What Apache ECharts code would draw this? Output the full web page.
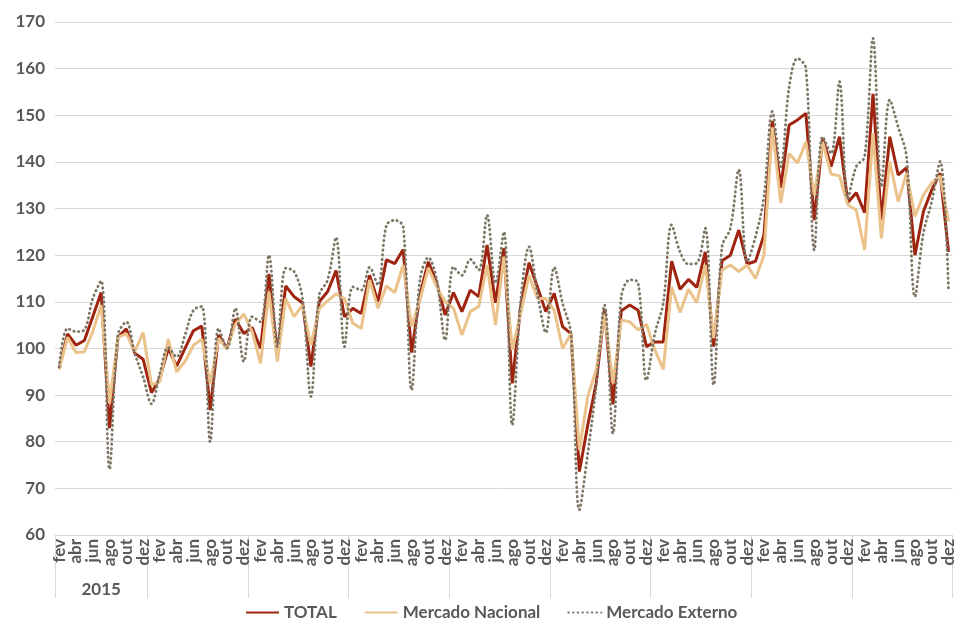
<!DOCTYPE html>
<html>
<head>
<meta charset="utf-8">
<script src="https://cdn.jsdelivr.net/npm/echarts@6/dist/echarts.min.js"></script>
<style>
  html, body { margin: 0; padding: 0; background: #fff; }
  #chart { width: 957px; height: 619px; }
</style>
</head>
<body>
<div id="chart"></div>
<script>
// meses e anos do eixo (começa em fev 2015, acaba em dez 2023)
var months = ['jan', 'fev', 'mar', 'abr', 'mai', 'jun', 'jul', 'ago', 'set', 'out', 'nov', 'dez'];
var years = ['2015', '2016', '2017', '2018', '2019', '2020', '2021', '2022', '2023'];
var yearLabels = ['2015', '', '', '', '', '', '', '', ''];

var total = [
    95.8, 103.1, 100.7, 101.7, 106.8, 112.0, 82.9, 102.4, 104.2, 99.0, 97.7,
    90.5, 93.6, 100.0, 96.2, 100.0, 103.8, 104.8, 86.8, 102.9, 100.0, 106.3, 103.2,
    104.5, 100.0, 116.0, 99.0, 113.4, 111.1, 109.8, 96.1, 110.0, 112.2, 116.7, 106.8,
    108.6, 107.5, 115.7, 110.0, 119.0, 118.2, 121.2, 99.1, 111.5, 118.6, 114.0, 107.2,
    112.0, 107.9, 112.5, 111.1, 122.2, 109.8, 121.5, 92.5, 109.0, 118.4, 113.2, 107.9,
    111.8, 104.7, 103.2, 73.6, 83.6, 92.5, 108.4, 88.0, 108.1, 109.3, 108.2, 100.4,
    101.4, 101.4, 118.7, 112.7, 114.8, 113.1, 120.7, 100.4, 118.8, 120.0, 125.4, 118.1,
    118.7, 124.3, 148.8, 134.5, 147.9, 149.0, 150.4, 127.5, 145.1, 139.0, 145.4, 131.3,
    133.4, 129.1, 154.6, 127.5, 145.4, 137.2, 138.8, 120.0, 129.3, 134.0, 137.6, 120.7
];
var nacional = [
    95.5, 102.4, 99.1, 99.3, 103.6, 109.3, 88.2, 102.4, 103.2, 99.3, 103.4,
    92.2, 92.9, 102.0, 95.0, 97.2, 100.7, 102.0, 92.5, 102.2, 99.8, 105.2, 107.4,
    103.6, 96.8, 112.2, 97.2, 110.7, 106.8, 109.3, 100.7, 108.6, 110.2, 111.7, 110.7,
    105.4, 104.3, 114.7, 108.6, 113.4, 112.0, 117.9, 104.7, 110.4, 117.3, 113.2, 110.0,
    108.6, 102.9, 107.9, 109.0, 117.9, 105.0, 119.7, 99.7, 107.5, 115.7, 110.7, 110.7,
    108.2, 100.0, 103.2, 78.2, 89.7, 95.4, 107.5, 92.5, 106.1, 105.7, 104.0, 105.2,
    99.7, 95.5, 113.2, 107.7, 112.7, 109.8, 117.9, 102.2, 116.8, 117.9, 116.5, 117.9,
    115.0, 120.0, 147.4, 131.2, 141.8, 139.7, 144.3, 132.9, 144.3, 137.4, 137.0, 130.8,
    129.7, 121.1, 146.1, 123.6, 140.1, 131.5, 137.6, 128.3, 132.9, 135.5, 137.0, 127.2
];
var externo = [
    96.0, 104.3, 103.6, 104.0, 110.7, 114.5, 74.1, 102.9, 105.7, 99.0, 93.9,
    88.1, 94.7, 100.2, 98.2, 102.9, 108.2, 109.0, 80.0, 104.3, 100.1, 108.6, 97.2,
    106.8, 105.7, 120.0, 100.4, 117.2, 116.5, 110.7, 89.7, 111.5, 114.7, 123.8, 100.4,
    113.2, 112.5, 117.4, 113.6, 126.4, 127.5, 126.1, 91.1, 114.7, 119.5, 114.7, 101.8,
    117.5, 115.7, 119.1, 116.8, 128.6, 114.0, 125.0, 83.6, 110.0, 121.8, 111.8, 103.4,
    117.4, 109.7, 103.2, 65.4, 77.5, 91.8, 109.3, 81.8, 111.1, 114.7, 114.1, 93.2,
    103.2, 109.7, 126.5, 120.7, 118.1, 118.3, 125.8, 92.2, 121.8, 125.8, 138.3, 118.6,
    124.0, 132.5, 150.8, 139.0, 156.0, 162.2, 160.1, 121.1, 145.4, 141.8, 157.2, 132.2,
    139.0, 141.1, 166.5, 134.7, 153.3, 147.5, 141.1, 111.1, 124.7, 131.5, 140.1, 112.2
];

// categorias mensais e eixo dos anos
var cats = [];
var yearRow = [];
var yearStart = [];
for (var y = 0; y < years.length; y++) {
    var first = (y == 0) ? 1 : 0; // 2015 começa em fev
    yearStart.push(cats.length);
    var mid = cats.length + Math.floor((12 - first) / 2) - (first ? 0 : 1);
    for (var m = first; m < 12; m++) {
        cats.push(months[m] + ' ' + years[y]);
        yearRow.push(cats.length - 1 == mid ? yearLabels[y] : '');
    }
}

var txt = '#595959';
var fnt = 'Lato';
var grey = '#D9D9D9';

var myChart = echarts.init(document.getElementById('chart'));

var option = {
    animation: false,
    textStyle: { fontFamily: fnt },
    grid: { left: 55, right: 0, top: 22, bottom: 84 },
    legend: {
        left: 240,
        top: 599,
        itemWidth: 33,
        itemHeight: 14,
        itemGap: 27,
        itemStyle: { opacity: 0 },
        textStyle: { color: txt, fontWeight: 'bold', fontSize: 17, fontFamily: fnt },
        data: ['TOTAL', 'Mercado Nacional', 'Mercado Externo']
    },
    xAxis: [{
        type: 'category',
        data: cats,
        boundaryGap: true,
        axisLine: { lineStyle: { color: grey, width: 1 } },
        axisTick: {
            show: true,
            length: 63,
            lineStyle: { color: grey },
            interval: function (idx) { return yearStart.indexOf(idx) >= 0; }
        },
        axisLabel: {
            interval: 0,
            rotate: 90,
            margin: 4,
            showMinLabel: true,
            showMaxLabel: true,
            color: txt,
            fontWeight: 'bold',
            fontSize: 17,
            fontFamily: fnt,
            // um rótulo sim, outro não
            formatter: function (v, i) { return i % 2 == 0 ? v.split(' ')[0] : ''; }
        }
    }, {
        type: 'category',
        data: yearRow,
        position: 'bottom',
        offset: 40,
        axisLine: { show: false },
        axisTick: { show: false },
        axisLabel: { interval: 0, margin: 6, color: txt, fontWeight: 'bold', fontSize: 17, fontFamily: fnt }
    }],
    yAxis: {
        type: 'value',
        min: 60,
        max: 170,
        interval: 10,
        axisLine: { show: false },
        axisTick: { show: false },
        axisLabel: { color: txt, fontWeight: 'bold', fontSize: 17, margin: 10, fontFamily: fnt },
        splitLine: { lineStyle: { color: grey, width: 1 } }
    },
    series: [{
        name: 'TOTAL',
        type: 'line',
        data: total,
        symbol: 'none',
        lineStyle: { color: '#9E2410', width: 3 },
        itemStyle: { color: '#9E2410' }
    }, {
        name: 'Mercado Nacional',
        type: 'line',
        data: nacional,
        symbol: 'none',
        lineStyle: { color: '#EBC28A', width: 3 },
        itemStyle: { color: '#EBC28A' }
    }, {
        name: 'Mercado Externo',
        type: 'line',
        data: externo,
        symbol: 'none',
        smooth: 0.35,
        lineStyle: { color: '#7E7766', width: 2.8, type: [0.5, 4.2], cap: 'round' },
        itemStyle: { color: '#7E7766' }
    }]
};

myChart.setOption(option);
</script>
</body>
</html>
